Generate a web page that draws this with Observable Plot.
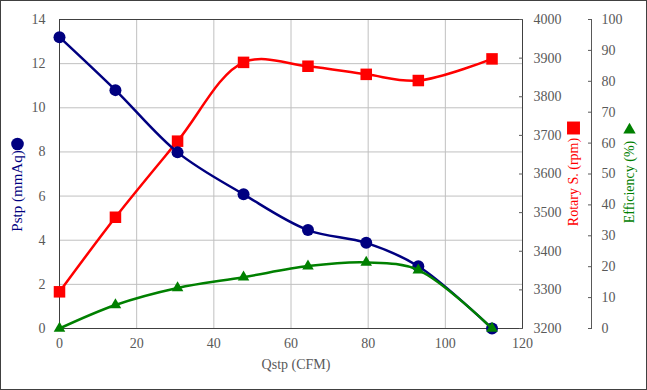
<!DOCTYPE html>
<html><head><meta charset="utf-8">
<script src="https://cdn.jsdelivr.net/npm/d3@7"></script>
<script src="https://cdn.jsdelivr.net/npm/@observablehq/plot@0.6"></script>
<style>
html,body{margin:0;padding:0;background:#fff}
#chart{width:647px;height:390px;border:1px solid #404040;box-sizing:border-box;overflow:hidden}
#chart svg{display:block}
#chart svg, #chart svg text{font-family:"Liberation Serif","Times New Roman",serif !important}
</style></head><body><div id="chart"></div>
<script>
// ---- data ----
const qstp       = [0, 14.5, 30.6, 47.7, 64.4, 79.5, 93.0, 112.1];   // CFM
const pstp       = [13.2, 10.8, 7.98, 6.08, 4.46, 3.88, 2.82, 0];    // mmAq
const rotary     = [3295, 3488, 3685, 3889, 3879, 3858, 3842, 3898]; // rpm
const efficiency = [0, 7.6, 13.1, 16.6, 20.2, 21.4, 18.9, 0];        // %

const xTicks = [0, 20, 40, 60, 80, 100, 120];
const pTicks = [0, 2, 4, 6, 8, 10, 12, 14];
const rTicks = [3200, 3300, 3400, 3500, 3600, 3700, 3800, 3900, 4000];
const eTicks = [0, 10, 20, 30, 40, 50, 60, 70, 80, 90, 100];

const xDomain = [0, 120];
const pDomain = [0, 14];
const rDomain = [3200, 4000];
const eDomain = [0, 100];

const xLabel = "Qstp (CFM)";
const pLabel = "Pstp (mmAq)";
const rLabel = "Rotary S. (rpm)";
const eLabel = "Efficiency (%)";

// map secondary axes onto the primary (Pstp) y scale
const rToP = v => (v - rDomain[0]) / (rDomain[1] - rDomain[0]) * (pDomain[1] - pDomain[0]) + pDomain[0];
const pToR = v => (v - pDomain[0]) / (pDomain[1] - pDomain[0]) * (rDomain[1] - rDomain[0]) + rDomain[0];
const eToP = v => (v - eDomain[0]) / (eDomain[1] - eDomain[0]) * (pDomain[1] - pDomain[0]) + pDomain[0];
const pToE = v => (v - pDomain[0]) / (pDomain[1] - pDomain[0]) * (eDomain[1] - eDomain[0]) + eDomain[0];

const pData = qstp.map((q, i) => ({q, v: pstp[i]}));
const rData = qstp.map((q, i) => ({q, v: rToP(rotary[i])}));
const eData = qstp.map((q, i) => ({q, v: eToP(efficiency[i])}));

const BLUE = "#000080", RED = "#ff0000", GREEN = "#008000", GRAY = "#595959";

const chart = Plot.plot({
  width: 645, height: 388,
  marginLeft: 58, marginRight: 124, marginTop: 18, marginBottom: 61,
  style: {fontSize: "14px", color: GRAY, background: "#fff"},
  x: {domain: xDomain},
  y: {domain: pDomain},
  marks: [
    Plot.gridX(xTicks.slice(1, -1), {stroke: "#c0c0c0", strokeOpacity: 1}),
    Plot.gridY(pTicks.slice(1, -1), {stroke: "#c0c0c0", strokeOpacity: 1}),
    Plot.frame({stroke: "#404040"}),
    Plot.axisX(xTicks, {tickSize: 0, tickPadding: 10, label: null}),
    Plot.axisY(pTicks, {anchor: "left", tickSize: 0, tickPadding: 14, label: null}),
    Plot.axisY(rTicks.map(rToP), {anchor: "right", tickSize: -4, tickPadding: 15, label: null,
      tickFormat: d => String(Math.round(pToR(d)))}),
    Plot.ruleX([xDomain[1]], {dx: 69, stroke: GRAY}),
    Plot.axisY(eTicks.map(eToP), {anchor: "right", dx: 69, tickSize: -4, tickPadding: 14, label: null,
      tickFormat: d => String(Math.round(pToE(d)))}),
    // series
    Plot.line(rData, {x: "q", y: "v", stroke: RED, strokeWidth: 2.5, curve: "catmull-rom"}),
    Plot.dot(rData, {x: "q", y: "v", symbol: "square", r: 6.5, fill: RED, stroke: "none"}),
    Plot.line(pData, {x: "q", y: "v", stroke: BLUE, strokeWidth: 2.5, curve: "catmull-rom"}),
    Plot.dot(pData, {x: "q", y: "v", symbol: "circle", r: 6, fill: BLUE, stroke: "none"}),
    Plot.line(eData, {x: "q", y: "v", stroke: GREEN, strokeWidth: 2.5, curve: "catmull-rom"}),
    Plot.dot(eData, {x: "q", y: "v", symbol: "triangle", r: 4.3, fill: GREEN, stroke: "none"}),
    // axis titles
    Plot.text([xLabel], {frameAnchor: "bottom", textAnchor: "middle", dx: 5, dy: 40, text: d => d, fill: GRAY}),
    Plot.text([pLabel], {frameAnchor: "left", textAnchor: "middle", dx: -42, dy: 17, rotate: -90, text: d => d, fill: BLUE, fontSize: 15}),
    Plot.dot([pLabel], {frameAnchor: "left", dx: -42, dy: -30, symbol: "circle", r: 6.3, fill: BLUE, stroke: "none"}),
    Plot.text([rLabel], {frameAnchor: "right", textAnchor: "middle", dx: 51, dy: 8, rotate: -90, text: d => d, fill: RED}),
    Plot.dot([rLabel], {frameAnchor: "right", dx: 51, dy: -46, symbol: "square", r: 7.3, fill: RED, stroke: "none"}),
    Plot.text([eLabel], {frameAnchor: "right", textAnchor: "middle", dx: 107, dy: 8, rotate: -90, text: d => d, fill: GREEN}),
    Plot.dot([eLabel], {frameAnchor: "right", dx: 107, dy: -44, symbol: "triangle", r: 4.6, fill: GREEN, stroke: "none"})
  ]
});
document.getElementById("chart").appendChild(chart);
</script>
</body></html>
